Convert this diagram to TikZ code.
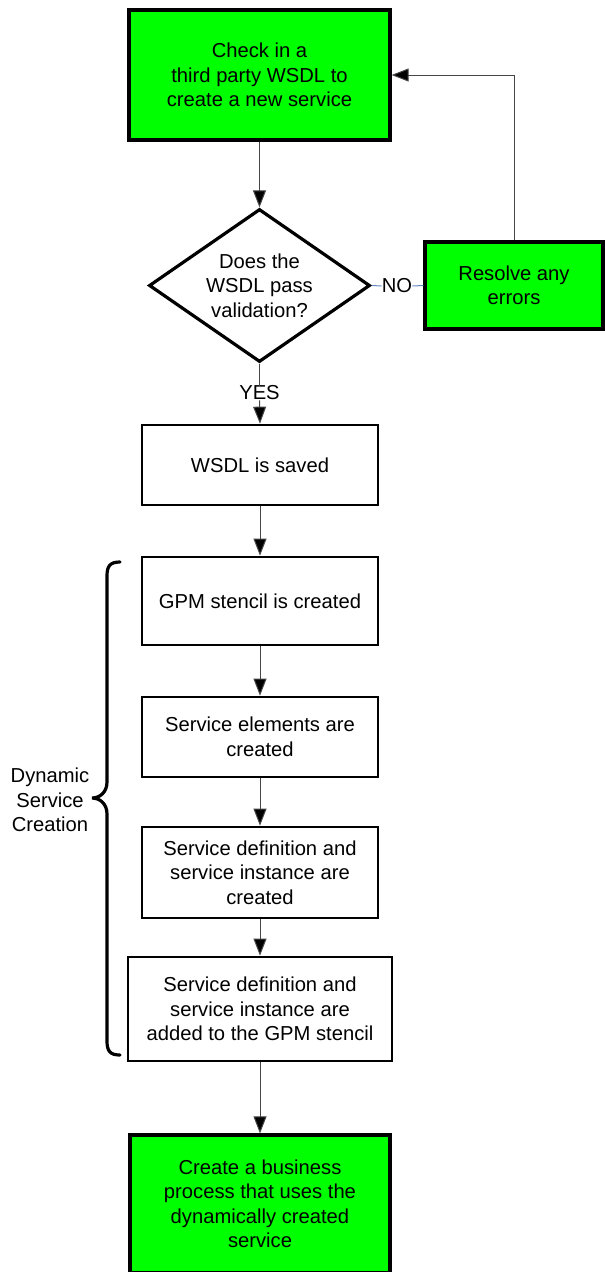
\documentclass[tikz,border=0pt]{standalone}
\usepackage{fontspec}
\setmainfont{Liberation Sans}
\usetikzlibrary{arrows.meta,shapes.geometric}
\definecolor{boxgreen}{RGB}{0,255,0}
\definecolor{nocol}{RGB}{100,135,190}
\definecolor{conn}{RGB}{70,70,70}
\begin{document}
\begin{tikzpicture}[x=1pt,y=-1pt,
  every node/.style={font=\fontsize{20.2}{24.5}\selectfont, align=center, inner sep=0pt},
  greenbox/.style={draw=black, line width=3.2pt, fill=boxgreen, rectangle},
  whitebox/.style={draw=black, line width=2.7pt, fill=white, rectangle},
  decision/.style={draw=black, line width=3.2pt, fill=white, diamond, aspect=1.44},
  conn/.style={draw=conn, line width=1pt},
  arr/.style={conn, -{Triangle[length=17pt,width=13pt,fill=black]}},
  lbl/.style={fill=white, inner sep=1pt}
]
\useasboundingbox (0,0) rectangle (605,1272);
\clip (0,0) rectangle (605,1272);

\node[greenbox, minimum width=261, minimum height=130] (top) at (259.5,75)
  {Check in a\\third party WSDL to\\create a new service};
\node[decision, minimum width=221, minimum height=153] (dec) at (259.5,285.5)
  {Does the\\WSDL pass\\validation?};
\node[greenbox, minimum width=178, minimum height=87] (res) at (514,285.5)
  {Resolve any\\errors};
\node (no) at (397,286) {NO};
\node (yes) at (259.5,393) {YES};
\node[whitebox, minimum width=236, minimum height=80] (saved) at (260,465)
  {WSDL is saved};
\node[whitebox, minimum width=236, minimum height=88] (gpm) at (260,601)
  {GPM stencil is created};
\node[whitebox, minimum width=236, minimum height=80] (elem) at (260,737)
  {Service elements are\\created};
\node[whitebox, minimum width=236, minimum height=91] (defc) at (260,872.5)
  {Service definition and\\service instance are\\created};
\node[whitebox, minimum width=264, minimum height=104] (added) at (260,1009)
  {Service definition and\\service instance are\\added to the GPM stencil};
\node[greenbox, minimum width=260, minimum height=138] (final) at (260,1204)
  {Create a business\\process that uses the\\dynamically created\\service};
\node (dsc) at (50,800) {Dynamic\\Service\\Creation};

% connectors
\draw[arr] (top.south) -- (dec.north);
\draw[draw=nocol, line width=1pt] (dec.east) -- (no.west);
\draw[draw=nocol, line width=1pt] (no.east) -- (res.west);
\draw[arr] (res.north) |- (top.east);
\draw[conn] (dec.south) -- (yes.north);
\draw[arr] (yes.south) -- (saved.north);
\draw[arr] (saved.south) -- (gpm.north);
\draw[arr] (gpm.south) -- (elem.north);
\draw[arr] (elem.south) -- (defc.north);
\draw[arr] (defc.south) -- (added.north);
\draw[arr] (added.south) -- (final.north);

% brace
\coordinate (bt) at (120,562);
\coordinate (bb) at (120,1055);
\coordinate (btip) at (92,798);
\draw[line width=3.2pt, line cap=round]
  (bt) .. controls (110,562) and (107,566) .. (107,576)
  -- (107,782) .. controls (107,792) and (100,798) .. (btip)
  .. controls (100,798) and (107,804) .. (107,814)
  -- (107,1041) .. controls (107,1051) and (110,1055) .. (bb);
\end{tikzpicture}
\end{document}
